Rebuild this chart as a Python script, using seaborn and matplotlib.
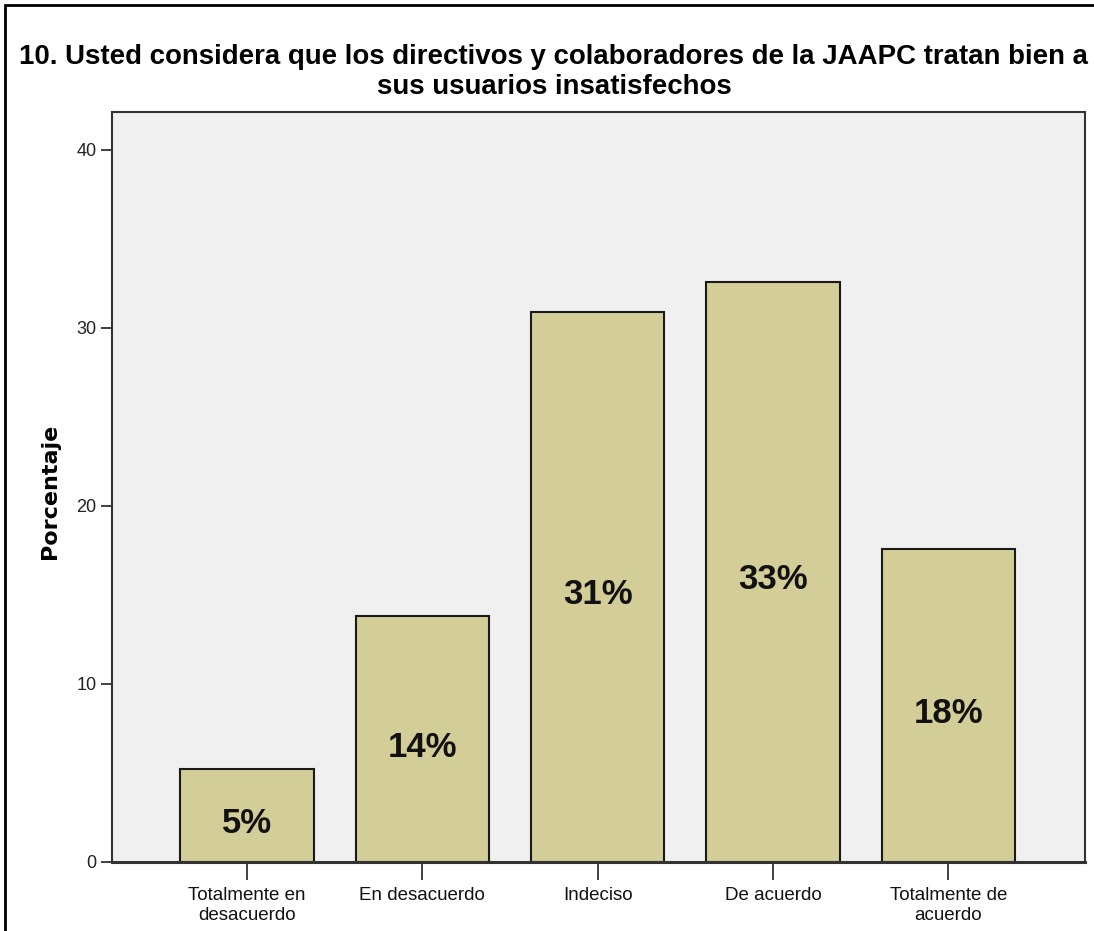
import matplotlib
matplotlib.use("Agg")
import matplotlib.pyplot as plt
import matplotlib.patches as mpatches
import seaborn as sns
import pandas as pd

categories = ["Totalmente en\ndesacuerdo", "En desacuerdo", "Indeciso", "De acuerdo", "Totalmente de\nacuerdo"]
percentages = [5.2, 13.8, 30.9, 32.6, 17.6]
bar_labels = ["5%", "14%", "31%", "33%", "18%"]
y_ticks = [0, 10, 20, 30, 40]
title = "10. Usted considera que los directivos y colaboradores de la JAAPC tratan bien a\nsus usuarios insatisfechos"
y_label = "Porcentaje"

sns.set_theme(style="white")
plt.rcParams["font.family"] = ["Liberation Sans", "DejaVu Sans"]

df = pd.DataFrame({"cat": categories, "pct": percentages})

fig = plt.figure(figsize=(10.94, 9.31), dpi=100)
fig.patch.set_facecolor("white")
ax = fig.add_axes([112/1094, 1-862/931, (1085-112)/1094, (862-112)/931])
ax.set_facecolor("#F0F0F0")

sns.barplot(data=df, x="cat", y="pct", color="#D3CE97", width=0.76,
            edgecolor="#1a1a1a", linewidth=1.5, saturation=1, ax=ax)

ax.set_xlim(-0.77, 4.78)
ax.set_ylim(0, 42.13)
ax.set_yticks(y_ticks)
ax.set_yticklabels([str(t) for t in y_ticks], fontsize=13, color="#222222")
ax.set_xticks(range(len(categories)))
ax.set_xticklabels(categories, fontsize=13.5, color="#111111", linespacing=1.2)
ax.tick_params(axis="y", direction="out", length=8, width=1.3, color="#333333", pad=3, left=True)
ax.tick_params(axis="x", direction="out", length=13, width=1.3, color="#333333", pad=5, bottom=True)
ax.set_xlabel("")
ax.set_ylabel("")
fig.text(50/1094, 1 - 491/931, y_label, rotation=90, ha="center", va="center",
         fontsize=16, fontweight="bold", family="DejaVu Sans", color="#000000")

for side in ["left", "right", "top", "bottom"]:
    ax.spines[side].set_visible(True)
    ax.spines[side].set_color("#333333")
    ax.spines[side].set_linewidth(1.5)
ax.spines["bottom"].set_linewidth(2.2)

for i, (v, lab) in enumerate(zip(percentages, bar_labels)):
    ax.text(i, v / 2 - 0.45, lab, ha="center", va="center", fontsize=25, fontweight="bold",
            color="#111111")

fig.text(554/1094, 1 - 72/931, title, ha="center", va="center", fontsize=19.9, fontweight="bold",
         color="#000000", linespacing=1.2)

border = mpatches.Rectangle((5/1094, -0.1), 1.2, 1 - 5/931 + 0.1, transform=fig.transFigure,
                            fill=False, edgecolor="black", linewidth=2)
fig.patches.append(border)

fig.savefig("out.png", dpi=100)
